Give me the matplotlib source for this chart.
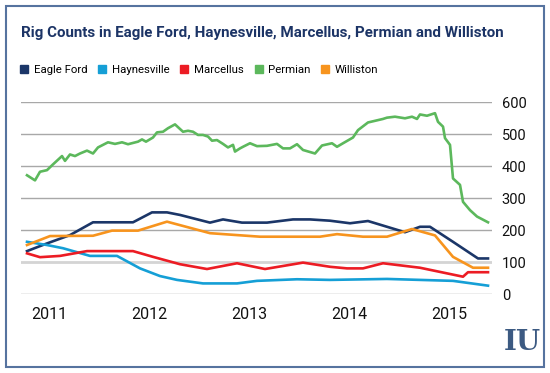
import matplotlib
matplotlib.use('Agg')
import matplotlib.pyplot as plt
from matplotlib.lines import Line2D
from matplotlib.patches import Rectangle

# rig counts (decimal year, rigs)
series_names = ['Eagle Ford', 'Haynesville', 'Marcellus', 'Permian', 'Williston']
series_colors = ['#1b3668', '#159fd6', '#ec1c24', '#5cb85c', '#f7941e']

eagle_ford_t = [2010.78, 2010.98, 2011.21, 2011.44, 2011.84, 2012.03, 2012.18, 2012.31, 2012.61, 2012.74,
                2012.93, 2013.18, 2013.44, 2013.61, 2013.81, 2014.01, 2014.19, 2014.38, 2014.56, 2014.71,
                2014.81, 2015.04, 2015.29, 2015.39]
eagle_ford = [135, 159, 185, 225, 225, 256, 256, 248, 224, 234,
              224, 224, 234, 234, 230, 222, 229, 211, 194, 211,
              211, 164, 112, 112]

haynesville_t = [2010.78, 2010.98, 2011.14, 2011.41, 2011.68, 2011.91, 2012.11, 2012.28, 2012.54, 2012.88,
                 2013.08, 2013.48, 2013.81, 2014.38, 2015.04, 2015.39]
haynesville = [164, 154, 144, 120, 120, 81, 57, 45, 34, 34,
               42, 47, 45, 48, 42, 27]

marcellus_t = [2010.78, 2010.91, 2011.11, 2011.38, 2011.84, 2012.04, 2012.31, 2012.58, 2012.88, 2013.16,
               2013.54, 2013.81, 2013.98, 2014.14, 2014.34, 2014.71, 2015.14, 2015.19, 2015.39]
marcellus = [128, 116, 120, 135, 135, 117, 94, 79, 97, 79,
             99, 86, 81, 81, 97, 83, 55, 69, 69]

permian_t = [2010.78, 2010.86, 2010.91, 2010.98, 2011.04, 2011.13, 2011.16, 2011.21, 2011.26, 2011.31,
             2011.38, 2011.44, 2011.49, 2011.59, 2011.66, 2011.73, 2011.79, 2011.89, 2011.93, 2011.97,
             2012.04, 2012.08, 2012.14, 2012.19, 2012.26, 2012.34, 2012.39, 2012.44, 2012.49, 2012.54,
             2012.59, 2012.63, 2012.68, 2012.74, 2012.79, 2012.84, 2012.86, 2012.91, 2012.94, 2013.01,
             2013.08, 2013.18, 2013.28, 2013.34, 2013.41, 2013.48, 2013.54, 2013.66, 2013.73, 2013.83,
             2013.88, 2013.94, 2014.04, 2014.09, 2014.19, 2014.34, 2014.38, 2014.46, 2014.56, 2014.63,
             2014.68, 2014.71, 2014.78, 2014.86, 2014.89, 2014.94, 2014.96, 2015.01, 2015.04, 2015.11,
             2015.14, 2015.21, 2015.28, 2015.39]
permian = [372, 356, 383, 388, 406, 432, 417, 437, 432, 440,
           449, 440, 459, 475, 470, 475, 469, 477, 484, 477,
           490, 506, 508, 519, 531, 508, 511, 508, 498, 498,
           493, 480, 482, 470, 459, 467, 446, 456, 461, 472,
           463, 464, 470, 456, 456, 469, 451, 440, 465, 472,
           461, 472, 490, 513, 537, 548, 552, 555, 550, 555,
           548, 562, 558, 566, 539, 524, 488, 467, 362, 342,
           289, 263, 243, 225]

williston_t = [2010.78, 2011.01, 2011.44, 2011.63, 2011.89, 2012.18, 2012.61, 2013.11, 2013.71, 2013.88,
               2014.14, 2014.38, 2014.63, 2014.86, 2015.04, 2015.24, 2015.39]
williston = [154, 182, 183, 199, 199, 227, 191, 180, 180, 188,
             180, 180, 204, 184, 117, 83, 83]

years = [2011, 2012, 2013, 2014, 2015]
y_ticks = [0, 100, 200, 300, 400, 500, 600]

title = 'Rig Counts in Eagle Ford, Haynesville, Marcellus, Permian and Williston'

font = ['Roboto', 'DejaVu Sans']
navy = '#1c3466'

fig = plt.figure(figsize=(5.5, 3.73), dpi=100)
ax = fig.add_axes([21 / 550, 1 - 294.3 / 373, 471 / 550, 192 / 373])

xs = [eagle_ford_t, haynesville_t, marcellus_t, permian_t, williston_t]
ys = [eagle_ford, haynesville, marcellus, permian, williston]
for t, v, c in zip(xs, ys, series_colors):
    ax.plot(t, v, color=c, lw=1.9, solid_joinstyle='round', zorder=3)

ax.set_xlim(2010.72, 2015.43)
ax.set_ylim(0, 600)
ax.set_xticks(years)
ax.set_xticklabels([str(y) for y in years], fontsize=11.5, family=font, color='#111111')
ax.set_yticks(y_ticks)
ax.set_yticklabels([str(v) for v in y_ticks], fontsize=10.5, family=font, color='#111111', ha='left')
ax.yaxis.tick_right()
ax.tick_params(axis='x', length=0, pad=9)
ax.tick_params(axis='y', length=0, pad=7)
for v in y_ticks:
    if v == 100:
        ax.axhline(v, color='#d4d4d4', lw=2.0, zorder=1)
    else:
        ax.axhline(v, color='#a8a8a8', lw=1.0, zorder=1)
for s in ax.spines.values():
    s.set_visible(False)

# title, shrunk so it spans the same width as the original (x 21..505 px)
ttl = fig.text(21 / 550, 1 - 33 / 373, title, fontsize=13, fontweight='bold', family=font,
               color=navy, va='center', ha='left')
r = fig.canvas.get_renderer()
w = ttl.get_window_extent(r).width
ttl.set_fontsize(13 * 484 / w)

handles = [Line2D([], [], marker='s', ls='none', markersize=5.5, color=c) for c in series_colors]
fig.legend(handles, series_names, loc='center left', bbox_to_anchor=(15 / 550, 1 - 70 / 373),
           ncol=5, frameon=False, handlelength=0.8, handletextpad=0.45, columnspacing=0.9,
           borderaxespad=0, prop={'family': font, 'size': 8.2})

# outer frame
fig.patches.append(Rectangle((6 / 550, 6 / 373), 538 / 550, 361 / 373, transform=fig.transFigure,
                             fill=False, edgecolor='#56739f', lw=1.5))

# logo
fig.text(522 / 550, 1 - 343 / 373, 'IU', fontsize=20, fontweight='bold', family='DejaVu Serif',
         color='#3c5a82', ha='center', va='center')

fig.savefig('out.png', dpi=100)
